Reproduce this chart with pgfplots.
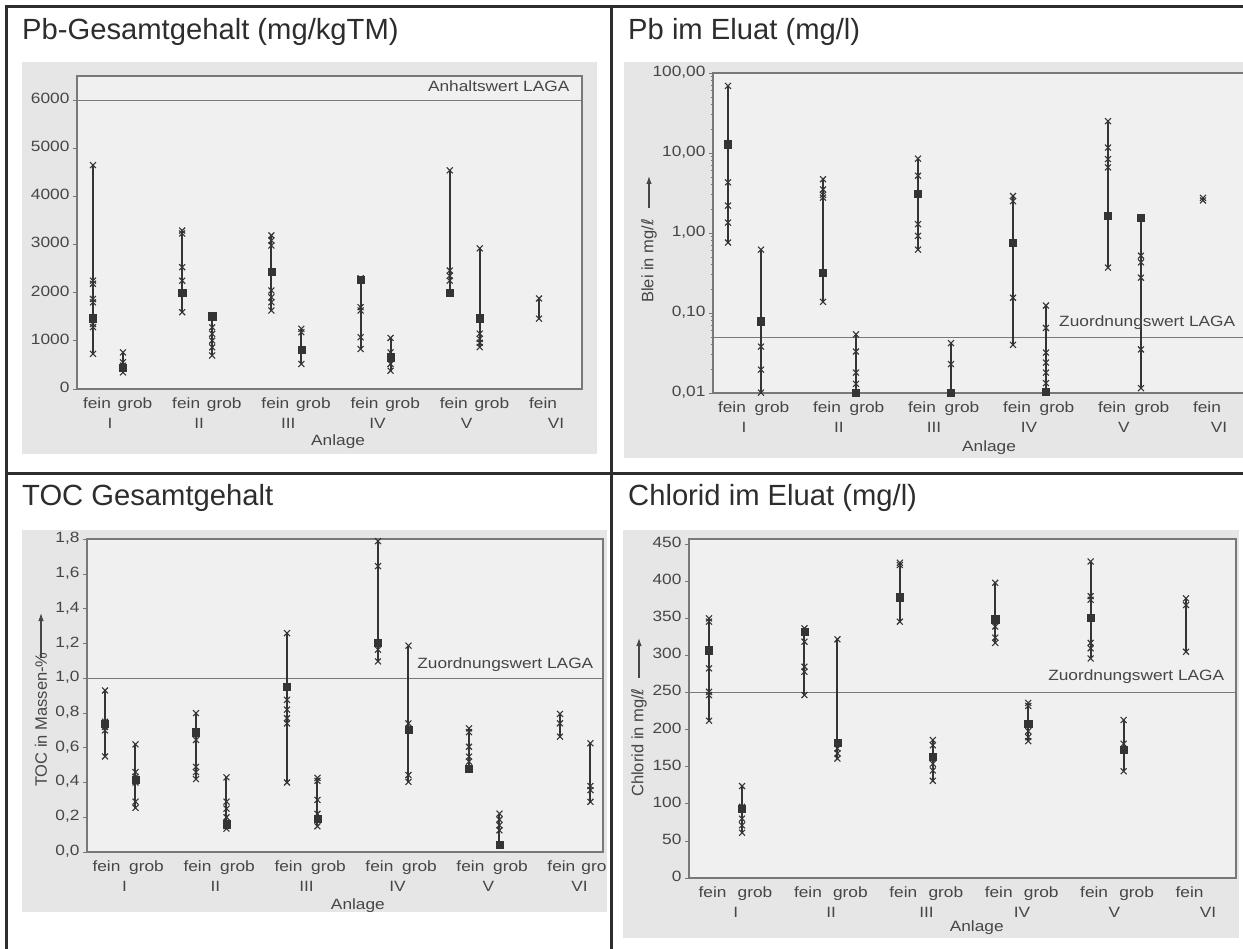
\documentclass[border=0pt]{standalone}
\usepackage{pgfplots}
\pgfplotsset{compat=1.18}
\usepackage{pgfplotstable}
\usepackage{fontspec}
\setmainfont{Liberation Sans}
\newfontfamily\dejavu{DejaVu Sans}
\usetikzlibrary{arrows.meta}
\definecolor{panel}{RGB}{230,230,230}
\definecolor{inner}{RGB}{240,240,240}
\definecolor{dat}{RGB}{52,52,52}
\definecolor{axl}{RGB}{120,120,120}
\definecolor{txt}{RGB}{70,70,70}
\definecolor{tbl}{RGB}{45,45,45}
\newcommand{\lab}{\fontsize{17.3}{20}\selectfont}
\newcommand{\ylab}{\fontsize{16.5}{19}\selectfont}
\newcommand{\ttl}{\fontsize{29.2}{33}\selectfont}

\tikzset{stxt/.style={font=\lab, text=txt, yscale=0.86}}
\pgfplotsset{
  scanplot/.style={
    scale only axis, clip=false,
    axis background/.style={fill=inner},
    axis line style={axl, line width=1.2pt},
    ytick pos=left, tick align=outside,
    major tick length=4pt, minor tick length=2.5pt,
    every tick/.style={axl, line width=0.8pt},
    xtick style={draw=none},
    tick label style={font=\lab, text=txt, yscale=0.86},
    label style={font=\lab, text=txt},
    typeset ticklabels with strut,
    extra x tick style={xtick style={draw=none}, tick label style={yshift=-23.5pt}},
  },
  rng/.style={dat, line width=2pt, unbounded coords=jump, mark=none},
  crs/.style={only marks, mark=x, mark size=4.2pt, dat, mark options={line width=1.1pt}},
  sqr/.style={only marks, mark=square*, mark size=3.6pt, dat},
  ref/.style={axl, line width=1.1pt},
}

% ---------- Panel A: Pb-Gesamtgehalt ----------
\pgfplotstableread{
x y
0 4650
0 2250
0 2185
0 1870
0 1800
0 1350
0 1285
0 730
0.336 760
0.336 555
0.336 485
0.336 345
1 3290
1 3230
1 2530
1 2250
1 1595
1.336 1530
1.336 1280
1.336 1145
1.336 1005
1.336 865
1.336 695
2 3190
2 3085
2 2980
2 2045
2 1905
2 1800
2 1630
2.336 1250
2.336 1180
2.336 800
2.336 520
3 2300
3 1700
3 1630
3 1075
3 830
3.336 1060
3.336 760
3.336 520
3.336 380
4 4540
4 2460
4 2350
4 2250
4.336 2920
4.336 1150
4.336 1040
4.336 960
4.336 870
5 1880
5 1460
}\pAcrs
\pgfplotstableread{
x y
0 1470
0.336 450
1 2000
1.336 1510
2 2440
2.336 820
3 2270
3.336 660
4 2000
4.336 1470
}\pAsqr
\pgfplotstableread{
x y
0 730
0 4650
nan nan
0.336 345
0.336 760
nan nan
1 1595
1 3290
nan nan
1.336 695
1.336 1530
nan nan
2 1630
2 3190
nan nan
2.336 520
2.336 1250
nan nan
3 830
3 2300
nan nan
3.336 380
3.336 1060
nan nan
4 2000
4 4540
nan nan
4.336 870
4.336 2920
nan nan
5 1460
5 1880
}\pArng

% ---------- Panel B: Pb im Eluat (log) ----------
\pgfplotstableread{
x y
0 69
0 4.3
0 2.2
0 1.35
0 0.76
0.347 0.62
0.347 0.038
0.347 0.0196
0.347 0.0101
1 4.7
1 3.5
1 3.0
1 2.77
1 0.138
1.347 0.054
1.347 0.033
1.347 0.018
1.347 0.013
2 8.5
2 5.2
2 1.29
2 0.92
2 0.62
2.347 0.042
2.347 0.023
3 2.9
3 2.5
3 0.155
3 0.040
3.347 0.124
3.347 0.065
3.347 0.032
3.347 0.024
3.347 0.018
3.347 0.0133
4 25
4 11.7
4 8.4
4 6.6
4 0.37
4.347 0.52
4.347 0.43
4.347 0.276
4.347 0.035
4.347 0.0115
5 2.75
5 2.55
}\pBcrs
\pgfplotstableread{
x y
0 12.9
0.347 0.079
1 0.32
1.347 0.0102
2 3.1
2.347 0.0102
3 0.76
3.347 0.0104
4 1.63
4.347 1.56
}\pBsqr
\pgfplotstableread{
x y
0 0.76
0 69
nan nan
0.347 0.0101
0.347 0.62
nan nan
1 0.138
1 4.7
nan nan
1.347 0.0102
1.347 0.054
nan nan
2 0.62
2 8.5
nan nan
2.347 0.0102
2.347 0.042
nan nan
3 0.040
3 2.9
nan nan
3.347 0.0104
3.347 0.124
nan nan
4 0.37
4 25
nan nan
4.347 0.0115
4.347 1.6
nan nan
5 2.55
5 2.75
}\pBrng

% ---------- Panel C: TOC ----------
\pgfplotstableread{
x y
0 0.93
0 0.75
0 0.72
0 0.70
0 0.55
0.335 0.62
0.335 0.46
0.335 0.433
0.335 0.40
0.335 0.29
0.335 0.254
1 0.80
1 0.645
1 0.49
1 0.46
1 0.42
1.335 0.43
1.335 0.29
1.335 0.25
1.335 0.20
1.335 0.135
2 1.26
2 0.876
2 0.82
2 0.77
2 0.74
2 0.40
2.335 0.427
2.335 0.41
2.335 0.30
2.335 0.22
2.335 0.148
3 1.79
3 1.646
3 1.165
3 1.097
3.335 1.188
3.335 0.74
3.335 0.443
3.335 0.404
4 0.712
4 0.69
4 0.606
4 0.549
4 0.52
4.335 0.221
4.335 0.187
4.335 0.154
4.335 0.125
5 0.795
5 0.741
5 0.664
5.335 0.626
5.335 0.38
5.335 0.356
5.335 0.289
}\pCcrs
\pgfplotstableread{
x y
0 0.74
0.335 0.414
1 0.69
1.335 0.16
2 0.95
2.335 0.19
3 1.207
3.335 0.706
4 0.48
4.335 0.04
}\pCsqr
\pgfplotstableread{
x y
0 0.55
0 0.93
nan nan
0.335 0.254
0.335 0.62
nan nan
1 0.42
1 0.80
nan nan
1.335 0.135
1.335 0.43
nan nan
2 0.40
2 1.26
nan nan
2.335 0.148
2.335 0.427
nan nan
3 1.097
3 1.79
nan nan
3.335 0.404
3.335 1.188
nan nan
4 0.48
4 0.712
nan nan
4.335 0.04
4.335 0.221
nan nan
5 0.664
5 0.795
nan nan
5.335 0.289
5.335 0.626
}\pCrng

% ---------- Panel D: Chlorid ----------
\pgfplotstableread{
x y
0 350
0 345.6
0 282.6
0 251
0 246.6
0 212
0.346 124
0.346 96
0.346 80
0.346 71
0.346 61
1 336.6
1 318.6
1 284.9
1 278
1 246.6
1.346 321.8
1.346 174.6
1.346 168
1.346 161
2 425
2 422
2 345.6
2.346 186
2.346 179
2.346 154
2.346 145
2.346 131
3 398
3 339
3 324
3 317
3.346 236
3.346 232
3.346 198
3.346 190
3.346 184.5
4 426.6
4 380
4 375
4 317
4 309.6
4 296
4.346 213
4.346 181
4.346 144
5 377
5 368
5 305
}\pDcrs
\pgfplotstableread{
x y
0 307
0.346 93.6
1 332
1.346 182
2 378.5
2.346 163
3 349
3.346 208
4 351
4.346 173
}\pDsqr
\pgfplotstableread{
x y
0 212
0 350
nan nan
0.346 61
0.346 124
nan nan
1 246.6
1 336.6
nan nan
1.346 161
1.346 321.8
nan nan
2 345.6
2 425
nan nan
2.346 131
2.346 186
nan nan
3 317
3 398
nan nan
3.346 184.5
3.346 236
nan nan
4 296
4 426.6
nan nan
4.346 144
4.346 213
nan nan
5 305
5 377
}\pDrng

\begin{document}
\begin{tikzpicture}
\useasboundingbox (0pt,0pt) rectangle (1243pt,-949pt);
% grey scan panels
\fill[panel] (22pt,-62pt) rectangle (597pt,-454pt);
\fill[panel] (624pt,-62pt) rectangle (1243pt,-458pt);
\fill[panel] (22pt,-530pt) rectangle (607pt,-912pt);
\fill[panel] (623pt,-530pt) rectangle (1239pt,-938pt);

% table lines
\draw[tbl, line width=3pt] (6pt,-949pt) -- (6pt,-7pt) -- (1243pt,-7pt);
\draw[tbl, line width=3pt] (611pt,-7pt) -- (611pt,-949pt);
\draw[tbl, line width=3pt] (6pt,-474pt) -- (1243pt,-474pt);

% titles
\node[anchor=base west, inner sep=0pt, font=\ttl, text=tbl] at (22pt,-40pt) {Pb-Gesamtgehalt (mg/kgTM)};
\node[anchor=base west, inner sep=0pt, font=\ttl, text=tbl] at (628pt,-40pt) {Pb im Eluat (mg/l)};
\node[anchor=base west, inner sep=0pt, font=\ttl, text=tbl] at (22pt,-506pt) {TOC Gesamtgehalt};
\node[anchor=base west, inner sep=0pt, font=\ttl, text=tbl] at (628pt,-506pt) {Chlorid im Eluat (mg/l)};

% ===== Panel A =====
\begin{axis}[scanplot, at={(77pt,-389pt)}, anchor=south west,
  width=505pt, height=313pt,
  xmin=-0.179, xmax=5.482, ymin=0, ymax=6500,
  ytick={0,1000,2000,3000,4000,5000,6000},
  yticklabels={0,1000,2000,3000,4000,5000,6000},
  xtick={0.045,0.471,1.045,1.471,2.045,2.471,3.045,3.471,4.045,4.471,5.045},
  xticklabels={fein,grob,fein,grob,fein,grob,fein,grob,fein,grob,fein},
  extra x ticks={0.19,1.19,2.19,3.19,4.19,5.19},
  extra x tick labels={I,II,III,IV,V,VI},
]
\addplot[ref] coordinates {(-0.179,6000) (5.482,6000)};
\addplot[rng] table[x=x,y=y] {\pArng};
\addplot[crs] table[x=x,y=y] {\pAcrs};
\addplot[sqr] table[x=x,y=y] {\pAsqr};
\node[anchor=east, stxt] at (axis description cs:0.982,0.968) {Anhaltswert LAGA};
\node[stxt] at (axis description cs:0.517,-0.167) {Anlage};
\end{axis}

% ===== Panel B =====
\begin{axis}[scanplot, at={(713pt,-393pt)}, anchor=south west,
  width=537pt, height=320pt, ymode=log,
  xmin=-0.158, xmax=5.495, ymin=0.01, ymax=100,
  ytick={0.01,0.1,1,10,100},
  yticklabels={{0,01},{0,10},{1,00},{10,00},{100,00}},
  xtick={0.042,0.463,1.042,1.463,2.042,2.463,3.042,3.463,4.042,4.463,5.042},
  xticklabels={fein,grob,fein,grob,fein,grob,fein,grob,fein,grob,fein},
  extra x ticks={0.168,1.168,2.168,3.168,4.168,5.168},
  extra x tick labels={I,II,III,IV,V,VI},
]
\addplot[ref] coordinates {(-0.158,0.05) (5.495,0.05)};
\addplot[rng] table[x=x,y=y] {\pBrng};
\addplot[crs] table[x=x,y=y] {\pBcrs};
\addplot[sqr] table[x=x,y=y] {\pBsqr};
\node[anchor=east, stxt] at (axis description cs:0.979,0.219) {Zuordnungswert LAGA};
\node[stxt] at (axis description cs:0.514,-0.172) {Anlage};
\end{axis}
\node[rotate=90, anchor=west, font=\ylab, text=txt, inner sep=0pt] at (649pt,-303pt) {Blei in mg/{\dejavu ℓ}};
\draw[txt, line width=1.1pt, -{Latex[length=8pt,width=5.5pt]}] (649pt,-208pt) -- (649pt,-176pt);

% ===== Panel C =====
\begin{axis}[scanplot, at={(87pt,-852pt)}, anchor=south west,
  width=516pt, height=313pt,
  xmin=-0.198, xmax=5.473, ymin=0, ymax=1.802,
  ytick={0,0.2,0.4,0.6,0.8,1.0,1.2,1.4,1.6,1.8},
  yticklabels={{0,0},{0,2},{0,4},{0,6},{0,8},{1,0},{1,2},{1,4},{1,6},{1,8}},
  xtick={0.016,0.456,1.016,1.456,2.016,2.456,3.016,3.456,4.016,4.456,5.016,5.374},
  xticklabels={fein,grob,fein,grob,fein,grob,fein,grob,fein,grob,fein,gro},
  extra x ticks={0.214,1.214,2.214,3.214,4.214,5.214},
  extra x tick labels={I,II,III,IV,V,VI},
]
\addplot[ref] coordinates {(-0.198,1.0) (5.473,1.0)};
\addplot[rng] table[x=x,y=y] {\pCrng};
\addplot[crs] table[x=x,y=y] {\pCcrs};
\addplot[sqr] table[x=x,y=y] {\pCsqr};
\node[anchor=east, stxt] at (axis description cs:0.988,0.597) {Zuordnungswert LAGA};
\node[stxt] at (axis description cs:0.525,-0.172) {Anlage};
\end{axis}
\node[rotate=90, anchor=west, font=\ylab, text=txt, inner sep=0pt] at (41pt,-787pt) {TOC in Massen-\%};
\draw[txt, line width=1.1pt, -{Latex[length=8pt,width=5.5pt]}] (41pt,-658pt) -- (41pt,-613pt);

% ===== Panel D =====
\begin{axis}[scanplot, at={(689pt,-878pt)}, anchor=south west,
  width=547pt, height=339pt,
  xmin=-0.210, xmax=5.524, ymin=0, ymax=457,
  ytick={0,50,100,150,200,250,300,350,400,450},
  yticklabels={0,50,100,150,200,250,300,350,400,450},
  xtick={0.037,0.482,1.037,1.482,2.037,2.482,3.037,3.482,4.037,4.482,5.037},
  xticklabels={fein,grob,fein,grob,fein,grob,fein,grob,fein,grob,fein},
  extra x ticks={0.28,1.28,2.28,3.28,4.25,5.23},
  extra x tick labels={I,II,III,IV,V,VI},
]
\addplot[ref] coordinates {(-0.210,250) (5.524,250)};
\addplot[rng] table[x=x,y=y] {\pDrng};
\addplot[crs] table[x=x,y=y] {\pDcrs};
\addplot[sqr] table[x=x,y=y] {\pDsqr};
\node[anchor=east, stxt] at (axis description cs:0.985,0.593) {Zuordnungswert LAGA};
\node[stxt] at (axis description cs:0.526,-0.147) {Anlage};
\end{axis}
\node[rotate=90, anchor=west, font=\ylab, text=txt, inner sep=0pt] at (639pt,-797pt) {Chlorid in mg/{\dejavu ℓ}};
\draw[txt, line width=1.1pt, -{Latex[length=8pt,width=5.5pt]}] (639pt,-678pt) -- (639pt,-638pt);
\end{tikzpicture}
\end{document}
